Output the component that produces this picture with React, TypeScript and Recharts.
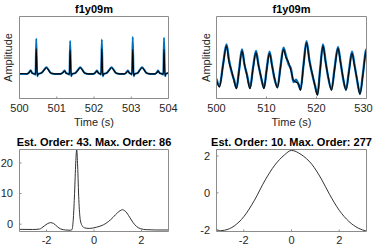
import React from 'react';
import { LineChart, Line, XAxis, YAxis } from 'recharts';

const FONT = '"Liberation Sans", Arial, Helvetica, sans-serif';

// ---- Top-left: f1y09m, 500–504 s ----
const ecgTime = [
  500.0, 500.2, 500.26, 500.3, 500.34, 500.4, 500.43, 500.45, 500.475, 500.5, 500.58, 500.66, 500.72, 500.78, 500.84, 500.95,
  501.1, 501.17, 501.21, 501.25, 501.31, 501.34, 501.36, 501.385, 501.41, 501.5, 501.57, 501.63, 501.69, 501.75, 501.85,
  501.98, 502.04, 502.08, 502.12, 502.17, 502.19, 502.21, 502.235, 502.26, 502.34, 502.41, 502.47, 502.53, 502.59, 502.7,
  502.82, 502.87, 502.91, 502.95, 503.0, 503.02, 503.04, 503.065, 503.09, 503.17, 503.23, 503.29, 503.35, 503.41, 503.52,
  503.64, 503.69, 503.72, 503.76, 503.83, 503.86, 503.88, 503.905, 503.93, 504.0,
];
const ecgSignal = [
  0.30, 0.30, 0.32, 0.345, 0.31, 0.30, 0.29, 0.73, 0.27, 0.30, 0.31, 0.35, 0.38, 0.35, 0.31, 0.30,
  0.30, 0.32, 0.34, 0.31, 0.30, 0.29, 0.70, 0.27, 0.30, 0.31, 0.35, 0.38, 0.35, 0.31, 0.30,
  0.30, 0.32, 0.34, 0.31, 0.30, 0.29, 0.72, 0.27, 0.30, 0.31, 0.35, 0.38, 0.35, 0.31, 0.30,
  0.30, 0.32, 0.34, 0.31, 0.30, 0.29, 0.75, 0.27, 0.30, 0.31, 0.35, 0.38, 0.35, 0.31, 0.30,
  0.30, 0.32, 0.34, 0.31, 0.30, 0.29, 0.74, 0.27, 0.30, 0.31,
];
const ecgModel = [
  0.305, 0.30, 0.315, 0.34, 0.31, 0.30, 0.295, 0.61, 0.28, 0.30, 0.31, 0.345, 0.375, 0.345, 0.31, 0.30,
  0.30, 0.315, 0.335, 0.31, 0.30, 0.295, 0.59, 0.28, 0.30, 0.31, 0.345, 0.375, 0.345, 0.31, 0.30,
  0.30, 0.315, 0.335, 0.31, 0.30, 0.295, 0.61, 0.28, 0.30, 0.31, 0.345, 0.375, 0.345, 0.31, 0.30,
  0.30, 0.315, 0.335, 0.31, 0.30, 0.295, 0.60, 0.28, 0.30, 0.31, 0.345, 0.375, 0.345, 0.31, 0.30,
  0.30, 0.315, 0.335, 0.31, 0.30, 0.295, 0.60, 0.28, 0.30, 0.31,
];

// ---- Top-right: f1y09m, 500–530 s ----
const pulseTime = [
  500.0, 500.6, 501.3, 502.0, 502.5, 503.0, 503.5, 504.0, 504.5, 505.1, 505.6, 506.1, 506.7, 507.3,
  507.9, 508.4, 508.9, 509.5, 510.0, 510.6, 511.1, 511.6, 512.2, 512.8, 513.4, 513.9, 514.4, 514.9,
  515.4, 515.9, 516.4, 516.8, 517.4, 518.0, 518.6, 519.2, 519.7, 520.2, 520.7, 521.3, 521.8, 522.3,
  523.0, 523.6, 524.3, 524.8, 525.3, 525.9, 526.5, 527.1, 527.6, 528.1, 528.7, 529.3, 529.9, 530.0,
];
const pulseModel = [
  0.22, 0.14, 0.40, 0.64, 0.45, 0.34, 0.22, 0.12, 0.33, 0.58, 0.42, 0.28, 0.12, 0.36,
  0.56, 0.40, 0.27, 0.12, 0.33, 0.55, 0.40, 0.25, 0.13, 0.38, 0.60, 0.50, 0.44, 0.34,
  0.22, 0.20, 0.18, 0.10, 0.40, 0.68, 0.45, 0.29, 0.15, 0.04, 0.33, 0.64, 0.45, 0.28,
  0.10, 0.35, 0.61, 0.44, 0.26, 0.10, 0.33, 0.55, 0.40, 0.24, 0.05, 0.30, 0.57, 0.58,
];
const pulseSignal = [
  0.24, 0.15, 0.41, 0.66, 0.47, 0.33, 0.23, 0.13, 0.34, 0.60, 0.41, 0.29, 0.13, 0.37,
  0.58, 0.41, 0.26, 0.13, 0.34, 0.57, 0.41, 0.24, 0.14, 0.39, 0.62, 0.52, 0.42, 0.36,
  0.20, 0.23, 0.17, 0.11, 0.41, 0.70, 0.46, 0.28, 0.16, 0.05, 0.34, 0.66, 0.46, 0.27,
  0.11, 0.36, 0.63, 0.45, 0.25, 0.11, 0.34, 0.57, 0.41, 0.23, 0.06, 0.31, 0.59, 0.60,
];

// ---- Bottom-left: Est. Order 43, Max. Order 86 ----
const spec1X = [
  -3.1416, -2.6, -2.3, -2.1, -1.95, -1.83, -1.7, -1.55, -1.4, -1.2, -1.0, -0.93, -0.87, -0.82, -0.77, -0.73, -0.69, -0.64,
  -0.58, -0.5, -0.4, -0.2, 0.1, 0.4, 0.6, 0.8, 1.0, 1.2, 1.35, 1.5, 1.65, 1.8, 1.97, 2.2, 2.6, 3.1416,
];
const spec1Y = [
  -1.7, -1.75, -1.6, -0.6, 0.2, 0.5, 0.2, -0.8, -1.6, -1.9, -2.0, -1.8, 2, 10, 20, 24.4, 19, 8,
  1.5, -0.5, -1.2, -1.4, -1.0, -0.2, 0.8, 2.2, 3.8, 4.7, 4.0, 2.3, 0.5, -0.8, -1.5, -1.8, -1.9, -1.9,
];

// ---- Bottom-right: Est. Order 10, Max. Order 277 ----
const spec2X = [-3.1416, -2.8, -2.4, -2.0, -1.55, -1.1, -0.7, -0.3, 0, 0.4, 0.85, 1.25, 1.6, 2.0, 2.4, 2.8, 3.1416];
const spec2Y = [-2.07, -2.03, -1.8, -1.3, -0.4, 0.7, 1.5, 2.05, 2.3, 2.08, 1.55, 0.75, -0.1, -0.95, -1.55, -1.92, -2.08];

const topLeftTicks = [500, 501, 502, 503, 504];
const topRightTicks = [500, 510, 520, 530];
const specXTicks = [-2, 0, 2];
const spec1YTicks = [0, 10, 20];
const spec2YTicks = [-2, 0, 2];

const ecgData = ecgTime.map((x, i) => ({ x, s: ecgSignal[i], m: ecgModel[i] }));
const pulseData = pulseTime.map((x, i) => ({ x, s: pulseSignal[i], m: pulseModel[i] }));
const spec1Data = spec1X.map((x, i) => ({ x, m: spec1Y[i] }));
const spec2Data = spec2X.map((x, i) => ({ x, m: spec2Y[i] }));

type LineSpec = { key: string; color: string; width: number };
type PanelProps = {
  left: number; top: number; width: number; height: number;
  plotLeft: number; plotRight: number; plotTop: number; plotBottom: number;
  data: any[];
  xDomain: [number, number]; xTicks: number[];
  yDomain: [number, number]; yTicks: number[];
  showYTicks: boolean;
  title: string; titleOffset: number;
  xLabel?: string; xLabelOffset?: number;
  yLabel?: string; yLabelOffset?: number;
  xTickMargin: number;
  maxTickX: number;
  lines: LineSpec[];
};

const BOX = '#8c8c8c';
const tickStyle = { fontSize: 11, fill: '#262626', fontFamily: FONT };
const labelStyle = { fontSize: 11, fill: '#262626', fontFamily: FONT };
const titleStyle = { fontSize: 11, fill: '#000', fontFamily: FONT, fontWeight: 'bold' as const };

const makeXTick = (maxX: number) => (props: any) => {
  const { x, y, payload } = props;
  return (
    <text
      x={Math.min(x, maxX)}
      y={y}
      dy="0.71em"
      textAnchor="middle"
      fontSize={11}
      fill="#262626"
      fontFamily={FONT}
    >
      {payload.value}
    </text>
  );
};

function Panel(p: PanelProps) {
  return (
    <div style={{ position: 'absolute', left: p.left, top: p.top }}>
      <LineChart
        width={p.width}
        height={p.height}
        data={p.data}
        margin={{ top: p.plotTop - 1, right: 0, bottom: 0, left: 0 }}
      >
        <XAxis
          xAxisId="b"
          dataKey="x"
          type="number"
          domain={p.xDomain}
          ticks={p.xTicks}
          interval={0}
          allowDataOverflow
          height={p.height - p.plotBottom}
          stroke={BOX}
          tickSize={-2}
          tickMargin={p.xTickMargin}
          tick={makeXTick(p.maxTickX)}
          label={
            p.xLabel
              ? { value: p.xLabel, position: 'insideBottom', offset: p.xLabelOffset, style: labelStyle }
              : undefined
          }
        />
        <XAxis
          xAxisId="t"
          orientation="top"
          dataKey="x"
          type="number"
          domain={p.xDomain}
          ticks={p.xTicks}
          interval={0}
          allowDataOverflow
          height={1}
          stroke={BOX}
          tickSize={-2}
          tick={false}
          label={{ value: p.title, position: 'top', offset: p.titleOffset, style: titleStyle }}
        />
        <YAxis
          yAxisId="l"
          type="number"
          domain={p.yDomain}
          ticks={p.yTicks}
          interval={0}
          allowDataOverflow
          width={p.plotLeft}
          stroke={BOX}
          tickSize={-2}
          tickMargin={8.5}
          tickLine={p.showYTicks}
          tick={p.showYTicks ? tickStyle : false}
          label={
            p.yLabel
              ? {
                  value: p.yLabel,
                  angle: -90,
                  position: 'insideLeft',
                  offset: p.yLabelOffset,
                  style: { ...labelStyle, textAnchor: 'middle' },
                }
              : undefined
          }
        />
        <YAxis
          yAxisId="r"
          orientation="right"
          type="number"
          domain={p.yDomain}
          ticks={p.yTicks}
          interval={0}
          allowDataOverflow
          width={p.width - p.plotRight}
          stroke={BOX}
          tickSize={-2}
          tickLine={p.showYTicks}
          tick={false}
        />
        {p.lines.map((l) => (
          <Line
            key={l.key}
            xAxisId="b"
            yAxisId="l"
            dataKey={l.key}
            type="monotone"
            stroke={l.color}
            strokeWidth={l.width}
            dot={false}
            activeDot={false}
            isAnimationActive={false}
          />
        ))}
      </LineChart>
    </div>
  );
}

export default function App() {
  return (
    <div
      style={{
        position: 'absolute',
        left: 0,
        top: 0,
        width: 374,
        height: 246,
        overflow: 'hidden',
        background: '#fff',
        fontFamily: FONT,
      }}
    >
      <Panel
        left={0} top={0} width={187} height={130}
        plotLeft={19.5} plotRight={168.5} plotTop={16.5} plotBottom={98.5}
        data={ecgData}
        xDomain={[500, 504]} xTicks={topLeftTicks}
        yDomain={[0, 1]} yTicks={[]}
        showYTicks={false}
        title="f1y09m" titleOffset={3}
        xLabel="Time (s)" xLabelOffset={4}
        yLabel="Amplitude" yLabelOffset={8.3}
        xTickMargin={8}
        maxTickX={1000}
        lines={[
          { key: 's', color: '#0072BD', width: 2 },
          { key: 'm', color: '#000000', width: 1.1 },
        ]}
      />
      <Panel
        left={187} top={0} width={195} height={130}
        plotLeft={29.5} plotRight={179.5} plotTop={16.5} plotBottom={98.5}
        data={pulseData}
        xDomain={[500, 530]} xTicks={topRightTicks}
        yDomain={[0, 1]} yTicks={[]}
        showYTicks={false}
        title="f1y09m" titleOffset={3}
        xLabel="Time (s)" xLabelOffset={4}
        yLabel="Amplitude" yLabelOffset={19}
        xTickMargin={8}
        maxTickX={176.5}
        lines={[
          { key: 's', color: '#0072BD', width: 2.3 },
          { key: 'm', color: '#0a0a0a', width: 1.3 },
        ]}
      />
      <Panel
        left={0} top={123} width={187} height={123}
        plotLeft={19.5} plotRight={168.5} plotTop={26.5} plotBottom={108.5}
        data={spec1Data}
        xDomain={[-Math.PI, Math.PI]} xTicks={specXTicks}
        yDomain={[-2.4, 24.4]} yTicks={spec1YTicks}
        showYTicks={true}
        title="Est. Order: 43. Max. Order: 86" titleOffset={2.5}
        xTickMargin={6.5}
        maxTickX={1000}
        lines={[{ key: 'm', color: '#333333', width: 1 }]}
      />
      <Panel
        left={187} top={123} width={195} height={123}
        plotLeft={29.5} plotRight={179.5} plotTop={26.5} plotBottom={108.5}
        data={spec2Data}
        xDomain={[-Math.PI, Math.PI]} xTicks={specXTicks}
        yDomain={[-2.1, 2.35]} yTicks={spec2YTicks}
        showYTicks={true}
        title="Est. Order: 10. Max. Order: 277" titleOffset={2.5}
        xTickMargin={6.5}
        maxTickX={176.5}
        lines={[{ key: 'm', color: '#333333', width: 1 }]}
      />
    </div>
  );
}
